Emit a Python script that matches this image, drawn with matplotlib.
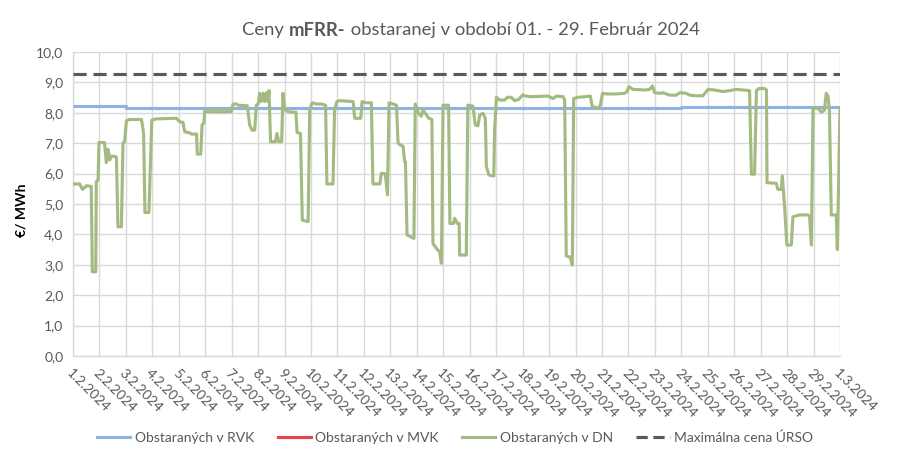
import matplotlib
matplotlib.use("Agg")
import matplotlib.pyplot as plt
from matplotlib.lines import Line2D

# ---------------- data ----------------
date_labels = ["1.2.2024", "2.2.2024", "3.2.2024", "4.2.2024", "5.2.2024", "6.2.2024",
               "7.2.2024", "8.2.2024", "9.2.2024", "10.2.2024", "11.2.2024", "12.2.2024",
               "13.2.2024", "14.2.2024", "15.2.2024", "16.2.2024", "17.2.2024", "18.2.2024",
               "19.2.2024", "20.2.2024", "21.2.2024", "22.2.2024", "23.2.2024", "24.2.2024",
               "25.2.2024", "26.2.2024", "27.2.2024", "28.2.2024", "29.2.2024", "1.3.2024"]

# Obstaraných v RVK (day offset from 1.2.2024, value)
rvk_day = [0.0, 2.0, 2.0, 23.0, 23.0, 29.0]
rvk_val = [8.22, 8.22, 8.15, 8.15, 8.19, 8.19]

# Obstaraných v MVK (no visible values)
mvk_day = []
mvk_val = []

# Maximálna cena ÚRSO
max_day = [0.0, 29.0]
max_val = [9.27, 9.27]

# Obstaraných v DN
dn_day = [0.00, 0.25, 0.36, 0.51, 0.69, 0.73, 0.86, 0.88, 0.95, 0.98, 1.19, 1.26, 1.32, 1.39,
          1.45, 1.64, 1.70, 1.83, 1.89, 1.95, 2.02, 2.14, 2.59, 2.67, 2.72, 2.87, 2.98, 3.15,
          3.91, 4.03, 4.16, 4.22, 4.41, 4.48, 4.67, 4.70, 4.83, 4.88, 4.95, 4.98, 5.05, 5.20,
          5.23, 5.26, 5.39, 5.42, 5.45, 5.58, 5.61, 5.64, 5.77, 5.80, 5.83, 5.99, 6.05, 6.18,
          6.24, 6.59, 6.68, 6.77, 6.87, 6.93, 7.00, 7.06, 7.12, 7.19, 7.25, 7.31, 7.37, 7.41,
          7.47, 7.66, 7.71, 7.78, 7.89, 7.94, 8.00, 8.13, 8.32, 8.43, 8.47, 8.60, 8.67, 8.89,
          8.95, 9.04, 9.20, 9.39, 9.55, 9.60, 9.83, 9.89, 9.98, 10.08, 10.59, 10.65, 10.88,
          10.93, 11.09, 11.28, 11.34, 11.60, 11.66, 11.81, 11.89, 11.95, 12.10, 12.23, 12.29,
          12.38, 12.48, 12.54, 12.57, 12.63, 12.89, 12.94, 13.07, 13.17, 13.23, 13.36, 13.45,
          13.57, 13.61, 13.74, 13.86, 13.93, 13.99, 14.20, 14.25, 14.38, 14.43, 14.53, 14.60,
          14.62, 14.87, 14.93, 15.12, 15.21, 15.31, 15.38, 15.50, 15.59, 15.63, 15.73, 15.91,
          15.94, 16.01, 16.13, 16.32, 16.42, 16.57, 16.70, 16.85, 17.01, 17.10, 17.33, 17.96,
          18.15, 18.28, 18.53, 18.59, 18.65, 18.80, 18.88, 18.93, 19.09, 19.35, 19.56, 19.63,
          19.85, 19.94, 20.02, 20.17, 20.54, 20.86, 20.95, 21.02, 21.17, 21.62, 21.80, 21.91,
          21.99, 22.18, 22.31, 22.56, 22.81, 22.94, 23.19, 23.32, 23.57, 23.82, 24.01, 24.26,
          24.58, 24.83, 25.08, 25.58, 25.65, 25.77, 25.84, 25.94, 26.15, 26.22, 26.24, 26.59,
          26.65, 26.78, 26.82, 26.91, 26.99, 27.16, 27.22, 27.47, 27.80, 27.85, 27.92, 27.98,
          28.17, 28.30, 28.41, 28.48, 28.55, 28.60, 28.67, 28.86, 28.90, 29.00]
dn_val = [5.66, 5.66, 5.48, 5.60, 5.58, 2.77, 2.77, 5.73, 5.80, 7.02, 7.02, 6.36, 6.80, 6.45,
          6.58, 6.55, 4.25, 4.25, 7.00, 7.05, 7.74, 7.78, 7.78, 7.32, 4.72, 4.72, 7.76, 7.80,
          7.82, 7.71, 7.68, 7.38, 7.34, 7.30, 7.30, 6.64, 6.64, 7.60, 7.68, 8.09, 8.04, 8.03,
          8.11, 8.03, 8.03, 8.11, 8.03, 8.03, 8.11, 8.03, 8.03, 8.11, 8.03, 8.04, 8.29, 8.29,
          8.25, 8.23, 7.60, 7.43, 7.43, 8.25, 8.29, 8.64, 8.37, 8.64, 8.37, 8.66, 8.37, 8.73,
          7.05, 7.05, 7.32, 7.05, 7.05, 8.64, 8.11, 8.04, 8.02, 8.02, 7.35, 7.32, 4.47, 4.42,
          8.09, 8.33, 8.29, 8.29, 8.25, 5.66, 5.66, 8.09, 8.37, 8.40, 8.37, 7.82, 7.82,
          8.37, 8.33, 8.33, 5.66, 5.66, 6.01, 5.99, 5.30, 8.33, 8.29, 8.25, 7.00,
          6.94, 6.90, 6.39, 6.39, 3.98, 3.87, 8.29, 7.98, 7.89, 8.09, 7.93, 7.82,
          7.78, 3.70, 3.54, 3.43, 3.05, 8.25, 8.25, 4.36, 4.36, 4.53, 4.36, 4.36,
          3.32, 3.32, 8.25, 8.22, 7.60, 7.57, 7.93, 7.98, 7.82, 6.23, 5.95, 5.92,
          7.43, 8.51, 8.42, 8.42, 8.51, 8.51, 8.40, 8.44, 8.59, 8.55, 8.53, 8.55,
          8.47, 8.55, 8.53, 8.42, 3.29, 3.25, 2.99, 8.47, 8.51, 8.53, 8.55, 8.22,
          8.14, 8.25, 8.64, 8.62, 8.62, 8.64, 8.70, 8.86, 8.77, 8.75, 8.77, 8.88,
          8.66, 8.64, 8.66, 8.58, 8.58, 8.66, 8.64, 8.58, 8.56, 8.56, 8.77, 8.75,
          8.70, 8.73, 8.77, 8.73, 5.98, 5.98, 8.73, 8.80, 8.80, 8.75, 5.70, 5.68,
          5.48, 5.48, 5.92, 4.86, 3.65, 3.65, 4.58, 4.64, 4.64, 4.58, 3.65, 8.15,
          8.15, 8.02, 8.09, 8.64, 8.55, 8.09, 4.64, 4.64, 3.50, 8.15]

y_ticks = [0, 1, 2, 3, 4, 5, 6, 7, 8, 9, 10]
y_tick_labels = ["0,0", "1,0", "2,0", "3,0", "4,0", "5,0", "6,0", "7,0", "8,0", "9,0", "10,0"]

title_parts = [("Ceny ", "normal"), ("mFRR-", "bold"), (" obstaranej v období 01. - 29. Február 2024", "normal")]
y_label = "€/ MWh"
legend_labels = ["Obstaraných v RVK", "Obstaraných v MVK", "Obstaraných v DN", "Maximálna cena ÚRSO"]

# ---------------- style ----------------
FONT = ["Lato", "DejaVu Sans"]
plt.rcParams['font.family'] = FONT
TXT = "#595959"
GRID = "#D9D9D9"
C_RVK = "#8DB3E2"
C_MVK = "#E0474C"
C_DN = "#A3BB80"
C_MAX = "#595959"
LW = 2.25

W, H, DPI = 902, 461, 100
fig = plt.figure(figsize=(W / DPI, H / DPI), dpi=DPI)
ax = fig.add_axes([73 / W, 1 - 356 / H, (840 - 73) / W, (356 - 52) / H])

ax.plot(max_day, max_val, color=C_MAX, lw=LW, ls=(0, (4.2, 2.2)), zorder=3)
ax.plot(rvk_day, rvk_val, color=C_RVK, lw=LW, zorder=3, solid_capstyle='butt')
ax.plot(mvk_day, mvk_val, color=C_MVK, lw=LW, zorder=3)
ax.plot(dn_day, dn_val, color=C_DN, lw=LW, zorder=4, solid_joinstyle='round')

ax.set_xlim(0, 29)
ax.set_ylim(0, 10)
ax.set_xticks(range(len(date_labels)))
ax.set_xticklabels(date_labels, rotation=-45, ha='left', va='top', rotation_mode='anchor',
                   color=TXT, fontsize=10)
ax.set_yticks(y_ticks)
ax.set_yticklabels(y_tick_labels, color=TXT, fontsize=10)
ax.tick_params(axis='y', length=0, pad=7)
ax.tick_params(axis='x', length=0, pad=8)
ax.grid(True, color=GRID, lw=1)
ax.set_axisbelow(True)
for s in ['top', 'right']:
    ax.spines[s].set_visible(False)
for s in ['left', 'bottom']:
    ax.spines[s].set_color(GRID)
    ax.spines[s].set_linewidth(1)

fig.text(22 / W, 1 - 210 / H, y_label, rotation=90, ha='center', va='center',
         fontsize=10, fontweight='bold', color="#000000")

# title with mixed weights
ty = 1 - 30 / H
texts = []
for s, wgt in title_parts:
    t = fig.text(0, ty, s, fontsize=13.3, fontweight=wgt, color=TXT, ha='left', va='center')
    texts.append(t)
fig.canvas.draw()
r = fig.canvas.get_renderer()
widths = [t.get_window_extent(r).width for t in texts]
total = sum(widths)
x0 = 471 - total / 2
for t, w in zip(texts, widths):
    t.set_position((x0 / W, ty))
    x0 += w

handles = [Line2D([], [], color=C_RVK, lw=LW),
           Line2D([], [], color=C_MVK, lw=LW),
           Line2D([], [], color=C_DN, lw=LW),
           Line2D([], [], color=C_MAX, lw=LW, ls=(0, (3.6, 1.8)))]
leg = fig.legend(handles, legend_labels, loc='center', bbox_to_anchor=(455 / W, 1 - 438 / H),
                 ncol=4, frameon=False, fontsize=10, handlelength=2.4, handletextpad=0.3,
                 columnspacing=1.7)
for t in leg.get_texts():
    t.set_color(TXT)

fig.savefig("out.png", dpi=DPI)
